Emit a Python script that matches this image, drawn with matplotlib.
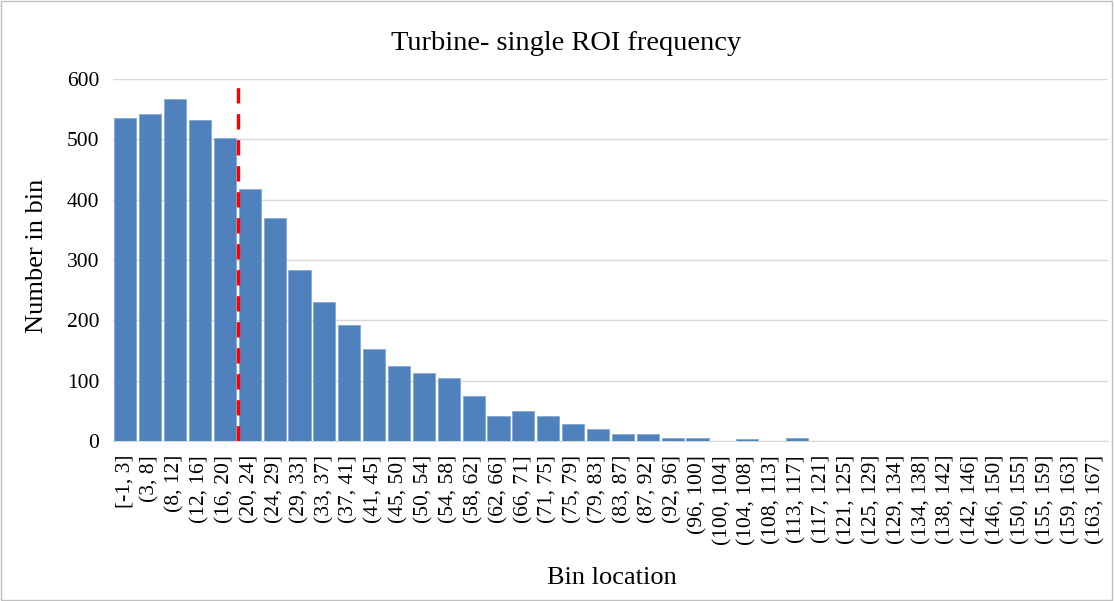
import numpy as np
import matplotlib.pyplot as plt

plt.rcParams['font.family'] = ['Liberation Serif', 'DejaVu Serif']

bins = ["[-1, 3]", "(3, 8]", "(8, 12]", "(12, 16]", "(16, 20]", "(20, 24]",
        "(24, 29]", "(29, 33]", "(33, 37]", "(37, 41]", "(41, 45]", "(45, 50]",
        "(50, 54]", "(54, 58]", "(58, 62]", "(62, 66]", "(66, 71]", "(71, 75]",
        "(75, 79]", "(79, 83]", "(83, 87]", "(87, 92]", "(92, 96]", "(96, 100]",
        "(100, 104]", "(104, 108]", "(108, 113]", "(113, 117]", "(117, 121]",
        "(121, 125]", "(125, 129]", "(129, 134]", "(134, 138]", "(138, 142]",
        "(142, 146]", "(146, 150]", "(150, 155]", "(155, 159]", "(159, 163]",
        "(163, 167]"]
counts = [535, 542, 567, 532, 503, 417, 370, 283, 230, 192, 152, 125,
          112, 105, 75, 42, 50, 42, 28, 20, 12, 12, 5, 5,
          0, 4, 0, 5, 0, 0, 0, 0, 0, 0, 0, 0, 0, 0, 0, 0]
cutoff = 4.5  # dashed marker between (16, 20] and (20, 24]

fig = plt.figure(figsize=(11.14, 6.01), dpi=100)
ax = fig.add_axes([0.1014, 0.2662, 0.8932, 0.6024])

x = np.arange(len(bins))
ax.bar(x, counts, width=0.89, color='#4F81BD', edgecolor='#7FA3D3', linewidth=0.5, zorder=3)
ax.axvline(cutoff + 0.04, ymax=0.99, color='#FF0000', linestyle=(0, (4.6, 3.2)),
           linewidth=2.4, zorder=4)

ax.set_xlim(-0.5, len(bins) - 0.5)
ax.set_ylim(0, 600)
ax.set_yticks(range(0, 601, 100))
ax.set_xticks(x)
ax.set_xticklabels(bins, rotation=90, fontsize=15.5)
ax.tick_params(axis='y', labelsize=15.5, length=0, pad=10)
ax.tick_params(axis='x', length=0, pad=10)
ax.grid(axis='y', color='#D9D9D9', linewidth=1, zorder=0)
for s in ['top', 'right', 'left']:
    ax.spines[s].set_visible(False)
ax.spines['bottom'].set_color('#D9D9D9')

fig.text(0.508, 0.928, 'Turbine- single ROI frequency', fontsize=20.5,
         ha='center', va='center')
fig.text(0.549, 0.038, 'Bin location', fontsize=19, ha='center', va='center')
fig.text(0.033, 0.574, 'Number in bin', fontsize=19, ha='center', va='center',
         rotation=90)

fig.patches.append(plt.Rectangle((0.001, 0.002), 0.997, 0.996, transform=fig.transFigure,
                                 fill=False, edgecolor='#BFBFBF', linewidth=1))

fig.savefig('out.png', dpi=100)
